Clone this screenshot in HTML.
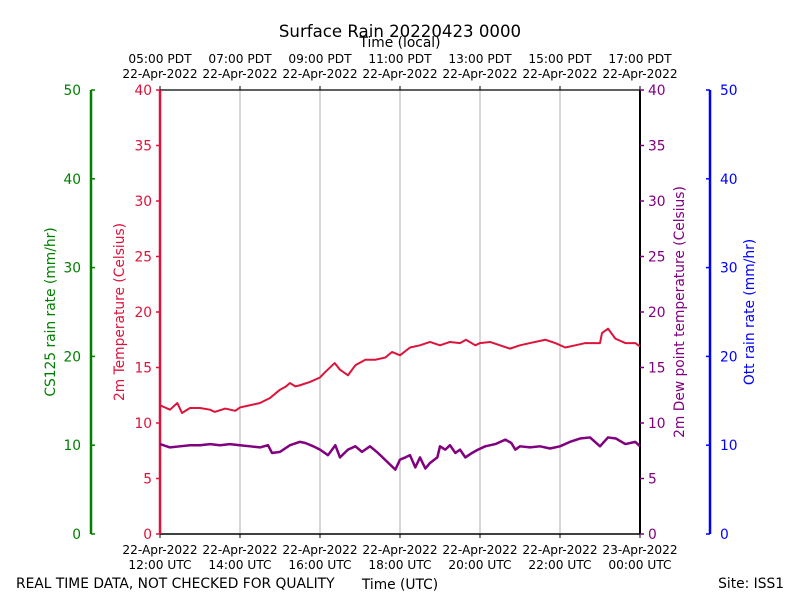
<!DOCTYPE html>
<html><head><meta charset="utf-8"><style>
body{margin:0;background:#fff}
svg{display:block;font-family:"DejaVu Sans","Liberation Sans",sans-serif}
</style></head><body>
<svg id="c" width="800" height="600" viewBox="0 0 800 600">
<text x="400" y="37" font-size="16.6" text-anchor="middle">Surface Rain 20220423 0000</text>
<text x="400" y="47" font-size="13.8" text-anchor="middle">Time (local)</text>
<text x="400" y="589" font-size="13.8" text-anchor="middle">Time (UTC)</text>
<text x="16" y="588" font-size="13.8">REAL TIME DATA, NOT CHECKED FOR QUALITY</text>
<text x="784" y="588" font-size="13.8" text-anchor="end">Site: ISS1</text>
<text transform="translate(55,312) rotate(-90)" font-size="13.8" fill="green" text-anchor="middle">CS125 rain rate (mm/hr)</text>
<text transform="translate(124,312) rotate(-90)" font-size="13.8" fill="#dc143c" text-anchor="middle">2m Temperature (Celsius)</text>
<text transform="translate(684,312) rotate(-90)" font-size="13.8" fill="purple" text-anchor="middle">2m Dew point temperature (Celsius)</text>
<text transform="translate(754,312) rotate(-90)" font-size="13.8" fill="blue" text-anchor="middle">Ott rain rate (mm/hr)</text>
<g id="g"></g>
</svg>
<script>
const tempMinutes=[0,15,26,33,45,60,75,82,98,113,120,135,150,165,180,188,195,203,210,225,240,248,262,270,282,293,308,323,338,348,360,375,390,405,420,435,450,459,473,480,495,510,525,540,555,578,593,608,623,638,660,663,672,683,698,713,720];
const tempValues=[11.6,11.2,11.8,10.9,11.35,11.35,11.2,11.0,11.3,11.1,11.4,11.6,11.8,12.25,13.0,13.25,13.6,13.3,13.4,13.7,14.1,14.6,15.4,14.8,14.3,15.2,15.7,15.7,15.9,16.4,16.1,16.8,17.0,17.3,17.0,17.3,17.2,17.5,17.0,17.2,17.3,17.0,16.7,17.0,17.2,17.5,17.2,16.8,17.0,17.2,17.2,18.1,18.5,17.6,17.2,17.2,16.9];
const dewMinutes=[0,15,30,45,60,75,90,105,120,135,150,162,168,180,195,210,218,230,240,252,263,270,282,293,303,315,327,353,360,368,375,383,390,398,405,416,420,428,435,443,450,458,468,477,488,503,518,527,533,540,555,570,585,600,615,630,645,660,672,684,698,713,720];
const dewValues=[8.1,7.8,7.9,8.0,8.0,8.1,8.0,8.1,8.0,7.9,7.8,8.0,7.3,7.4,8.0,8.3,8.2,7.9,7.6,7.1,8.0,6.9,7.6,7.9,7.4,7.9,7.3,5.8,6.7,6.9,7.1,6.0,6.9,5.9,6.4,6.9,7.9,7.6,8.0,7.3,7.6,6.9,7.3,7.6,7.9,8.1,8.5,8.2,7.6,7.9,7.8,7.9,7.7,7.9,8.3,8.6,8.7,7.9,8.7,8.6,8.1,8.3,7.9];
const utcTicks=["22-Apr-2022|12:00 UTC","22-Apr-2022|14:00 UTC","22-Apr-2022|16:00 UTC","22-Apr-2022|18:00 UTC","22-Apr-2022|20:00 UTC","22-Apr-2022|22:00 UTC","23-Apr-2022|00:00 UTC"];
const localTicks=["05:00 PDT|22-Apr-2022","07:00 PDT|22-Apr-2022","09:00 PDT|22-Apr-2022","11:00 PDT|22-Apr-2022","13:00 PDT|22-Apr-2022","15:00 PDT|22-Apr-2022","17:00 PDT|22-Apr-2022"];
const tempTicks=[0,5,10,15,20,25,30,35,40];
const rainTicks=[0,10,20,30,40,50];

const L=160,R=640,T=90,B=534;
const xs=m=>L+(R-L)*m/720;
const yt=v=>B-(B-T)*v/40;
const yr=v=>B-(B-T)*v/50;
const g=document.getElementById('g');
const NS='http://www.w3.org/2000/svg';
function el(tag,attrs,parent){const e=document.createElementNS(NS,tag);for(const k in attrs)e.setAttribute(k,attrs[k]);(parent||g).appendChild(e);return e;}
function txt(x,y,s,attrs){const t=el('text',Object.assign({x:x,y:y,'font-size':12.2},attrs));t.textContent=s;return t;}

utcTicks.forEach((s,i)=>{
  const x=xs(i*120);
  if(i>0&&i<6){const l=el('line',{x1:x,x2:x,y1:T,y2:B,stroke:'#b0b0b0','stroke-width':1});
  
  }
  const p=s.split('|');
  const t1=txt(x,554,p[0],{'text-anchor':'middle'});
  
  
  const t2=txt(x,569,p[1],{'text-anchor':'middle'});
  
  
  el('line',{x1:x,x2:x,y1:B,y2:B+4,stroke:'#000'});
  const q=localTicks[i].split('|');
  const t3=txt(x,63,q[0],{'text-anchor':'middle'});
  
  
  const t4=txt(x,78,q[1],{'text-anchor':'middle'});
  
  
  el('line',{x1:x,x2:x,y1:T,y2:T-4,stroke:'#000'});
});
el('line',{x1:L,x2:R,y1:T,y2:T,stroke:'#000','stroke-width':1.2});
el('line',{x1:L,x2:R,y1:B,y2:B,stroke:'#000','stroke-width':1.5});
el('line',{x1:R,x2:R,y1:T,y2:B,stroke:'#000','stroke-width':2});
el('line',{x1:L,x2:L,y1:T,y2:B,stroke:'#dc143c','stroke-width':2.5});
el('line',{x1:91,x2:91,y1:T,y2:B,stroke:'green','stroke-width':2.5});
el('line',{x1:710,x2:710,y1:T,y2:B,stroke:'blue','stroke-width':2.5});
tempTicks.forEach(v=>{
  const y=yt(v);
  el('line',{x1:L-4,x2:L,y1:y,y2:y,stroke:'#dc143c','stroke-width':1.5});
  const a=txt(L-8,y+5,String(v),{'text-anchor':'end',fill:'#dc143c','font-size':13.8});
  
  
  el('line',{x1:R,x2:R+4,y1:y,y2:y,stroke:'purple','stroke-width':1.5});
  const b=txt(R+8,y+5,String(v),{fill:'purple','font-size':13.8});
  
  
});
rainTicks.forEach(v=>{
  const y=yr(v);
  el('line',{x1:91,x2:95,y1:y,y2:y,stroke:'green','stroke-width':1.5});
  const a=txt(81,y+5,String(v),{'text-anchor':'end',fill:'green','font-size':13.8});
  
  
  el('line',{x1:706,x2:710,y1:y,y2:y,stroke:'blue','stroke-width':1.5});
  const b=txt(720,y+5,String(v),{fill:'blue','font-size':13.8});
  
  
});
const tp=el('polyline',{points:tempMinutes.map((m,i)=>xs(m)+','+yt(tempValues[i])).join(' '),fill:'none',stroke:'#dc143c','stroke-width':2,'stroke-linejoin':'round'});


const dp=el('polyline',{points:dewMinutes.map((m,i)=>xs(m)+','+yt(dewValues[i])).join(' '),fill:'none',stroke:'purple','stroke-width':2.5,'stroke-linejoin':'round'});


</script>
</body></html>
